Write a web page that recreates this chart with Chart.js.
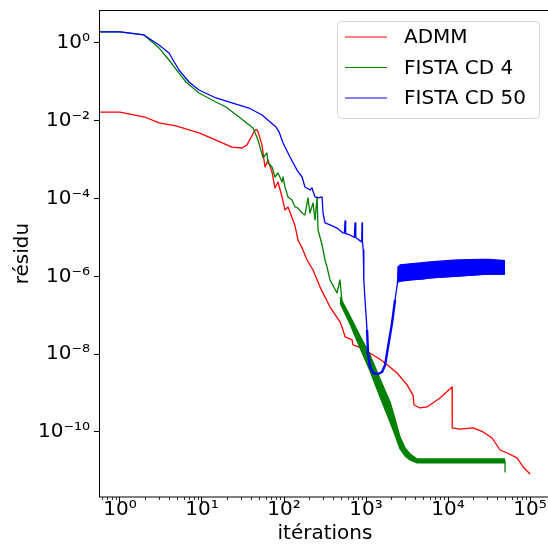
<!DOCTYPE html>
<html>
<head>
<meta charset="utf-8">
<script src="https://cdn.jsdelivr.net/npm/chart.js@4.4.1/dist/chart.umd.min.js"></script>
<style>
html, body { margin: 0; padding: 0; overflow: hidden; background: #fff; }
canvas { display: block; }
</style>
</head>
<body>
<canvas id="graphique-residu" width="551" height="545"></canvas>
<script>
/* global Chart */
// ADMM
const admmIter = [0.555, 1, 2, 3, 4.8, 9.2, 14.8, 23.2, 30.8, 35.4, 44.3, 46.9, 48.2, 53.9, 58.6, 63.8, 71.4, 77.6, 84.5, 94.6,
	102.8, 111.9, 125.3, 136.2, 148.3, 166, 191, 226, 275, 364, 482, 524, 555, 675, 694, 894, 1217, 1400, 1706, 2389,
	3162, 3743, 3849, 4558, 5548, 7980, 11200, 11250, 14000, 20180, 26740, 34420, 43060, 52480, 69380, 82200, 100000];
const admmResidu = [0.0168, 0.0168, 0.0125, 0.0088, 0.0074, 0.0049, 0.0032, 0.0021, 0.0020, 0.0024, 0.0058, 0.0058, 0.0052, 0.0024, 6.5e-4, 9.8e-4, 4.8e-4, 1.87e-4, 2.67e-4, 1.10e-4,
	5.1e-5, 6.1e-5, 3.2e-5, 2.0e-5, 8.6e-6, 5.4e-6, 2.64e-6, 1.46e-6, 5.3e-7, 1.63e-7, 6.8e-8, 4.2e-8, 2.77e-8, 2.32e-8, 1.73e-8, 1.44e-8, 9.5e-9, 8.0e-9, 5.9e-9, 3.29e-9,
	1.62e-9, 8.9e-10, 4.95e-10, 4.14e-10, 4.4e-10, 7.5e-10, 1.44e-9, 1.27e-10, 1.19e-10, 1.27e-10, 1.0e-10, 7.0e-11, 3.44e-11, 2.88e-11, 2.15e-11, 1.26e-11, 8.3e-12];

// FISTA CD 4
const cd4Iter = [0.555, 1, 1.96, 3, 3.96, 5.24, 6.38, 9.19, 14.8, 19.6, 28.3, 41.9, 48.2, 55.5, 62.0, 63.8, 71.4, 77.6, 84.5, 94.6,
	97.3, 102.8, 111.9, 125.3, 136.2, 148.3, 166, 180, 196, 207, 226, 239, 253, 260, 291, 316, 334, 364, 443, 482,
	510, 603, 694, 845, 1119, 1482, 1963, 2259, 2599, 2991, 3441, 4188, 49550, 49550];
const cd4Residu = [1.92, 1.92, 1.61, 0.74, 0.365, 0.169, 0.0994, 0.0518, 0.0304, 0.0226, 0.0125, 0.0065, 0.00321, 0.00111, 0.00149, 8.2e-4, 6.5e-4, 3.59e-4, 4.55e-4, 2.67e-4,
	3.59e-4, 1.99e-4, 1.10e-4, 9.2e-5, 6.1e-5, 5.7e-5, 4.26e-5, 3.79e-5, 1.04e-4, 4.26e-5, 7.7e-5, 2.82e-5, 1.10e-4, 1.56e-5, 6.5e-6, 2.64e-6, 1.75e-6, 8.1e-7, 3.74e-7, 8.1e-7,
	2.07e-7, 1.15e-7, 5.0e-8, 2.1e-8, 5.9e-9, 1.4e-9, 4.5e-10, 1.4e-10, 4.3e-11, 2.9e-11, 2.3e-11, 1.8e-11, 1.8e-11, 9.4e-12];
// bande d'oscillation de FISTA CD 4
const cd4BandeIter = [482, 638, 845, 1119, 1482, 1963, 2259, 2599, 2991, 3441, 4188, 49550];
const cd4BandeHaut = [2.95e-7, 9.6e-8, 2.94e-8, 9.5e-9, 2.30e-9, 5.9e-10, 2.16e-10, 7.4e-11, 3.88e-11, 2.72e-11, 2.02e-11, 2.02e-11];
const cd4BandeBas = [2.07e-7, 5.97e-8, 1.44e-8, 3.70e-9, 7.9e-10, 1.81e-10, 8.4e-11, 3.66e-11, 2.42e-11, 1.91e-11, 1.60e-11, 1.60e-11];

// FISTA CD 50
const cd50Iter = [0.555, 1, 1.96, 2.99, 3.96, 5.24, 6.94, 9.19, 14.8, 23.2, 37.4, 53.9, 79.8, 86.9, 97.3, 118.4, 144.2, 166, 180, 207,
	219, 239, 260, 291, 299, 316, 364, 443, 524, 545, 555, 565, 638, 720, 734, 750, 798, 885, 894, 905,
	925, 940, 972, 1029, 1058, 1119, 1217, 1400, 1567, 1706, 1855, 2075, 2259, 2420, 2455, 2470, 2599, 3441, 4959, 6025,
	12880, 26740, 32360, 49550];
const cd50Residu = [1.92, 1.92, 1.61, 0.89, 0.553, 0.202, 0.0994, 0.0619, 0.0386, 0.0287, 0.0213, 0.0141, 0.00693, 0.0052, 0.00269, 0.00117, 5.4e-4, 3.59e-4, 1.99e-4, 1.66e-4,
	1.87e-4, 1.10e-4, 1.04e-4, 1.10e-4, 4.26e-5, 2.36e-5, 2.1e-5, 1.75e-5, 1.31e-5, 1.3e-5, 2.66e-5, 1.25e-5, 1.16e-5, 1.0e-5, 2.36e-5, 1.0e-5, 9.0e-6, 7.7e-6, 2.36e-5, 7.7e-6,
	4.8e-6, 8.1e-7, 2.47e-7, 4.19e-8, 1.07e-8, 4.69e-9, 3.29e-9, 3.10e-9, 3.48e-9, 5.3e-9, 1.53e-8, 6.3e-8, 2.47e-7, 6.8e-7, 1.75e-6, 7.2e-7, 7.6e-7, 8.1e-7, 8.7e-7, 9.1e-7,
	1.02e-6, 1.12e-6, 1.15e-6, 1.15e-6];
// bande d'oscillation de FISTA CD 50
const cd50BandeIter = [2455, 2599, 3441, 4959, 6025, 12880, 26740, 32360, 49550];
const cd50BandeHaut = [1.75e-6, 1.96e-6, 2.1e-6, 2.25e-6, 2.35e-6, 2.64e-6, 2.72e-6, 2.75e-6, 2.53e-6];
const cd50BandeBas = [7.2e-7, 7.6e-7, 8.1e-7, 8.7e-7, 9.1e-7, 1.02e-6, 1.12e-6, 1.15e-6, 1.15e-6];

// graduations
const xGraduations = [1, 10, 100, 1e3, 1e4, 1e5];
const yGraduations = [1e-10, 1e-8, 1e-6, 1e-4, 1e-2, 1];
const xMin = 0.555, xMax = 1.8e5;
const yMin = 2.13e-12, yMax = 7.05;

const police = "DejaVu Sans";
const rouge = "#ff0000", vert = "#008000", bleu = "#0000ff";

function points(xs, ys){
	return xs.map((x, i) => ({x: x, y: ys[i]}));
}

// 10 puissance n avec exposant en caracteres unicode
const exposants = {"0": "⁰", "1": "¹", "2": "²", "3": "³", "4": "⁴", "5": "⁵", "6": "⁶", "7": "⁷", "8": "⁸", "9": "⁹", "-": "⁻"};
function puissance(v){
	const e = Math.round(Math.log10(v));
	return "10" + String(e).split("").map(c => exposants[c]).join("");
}

// cadre complet + graduations mineures + legende
const decor = {
	id: "decor",
	afterDraw(chart){
		const ctx = chart.ctx;
		const zone = chart.chartArea;
		const xs = chart.scales.x;
		ctx.save();
		ctx.strokeStyle = "#000";
		ctx.lineWidth = 1;
		ctx.strokeRect(zone.left + 0.5, zone.top + 0.5, zone.right - zone.left, zone.bottom - zone.top - 0.5);
		// graduations mineures en x
		ctx.lineWidth = 0.8;
		ctx.beginPath();
		for (const dec of [0.1].concat(xGraduations)){
			for (let m = 2; m <= 9; m++){
				const v = dec * m;
				if (v < xs.min || v > xs.max) continue;
				const px = Math.round(xs.getPixelForValue(v)) + 0.5;
				ctx.moveTo(px, zone.bottom);
				ctx.lineTo(px, zone.bottom + 3);
			}
		}
		ctx.stroke();

		// legende
		const series = chart.data.datasets.filter(d => !d.bande);
		ctx.font = "20px \"" + police + "\"";
		const largeurTexte = Math.max(...series.map(s => ctx.measureText(s.label).width));
		const largeur = 8 + 42 + 17 + largeurTexte + 13;
		const hauteur = 97;
		const x0 = zone.right - 12 - largeur;
		const y0 = zone.top + 11;
		ctx.beginPath();
		if (ctx.roundRect) ctx.roundRect(x0 + 0.5, y0 + 0.5, largeur, hauteur, 4);
		else ctx.rect(x0 + 0.5, y0 + 0.5, largeur, hauteur);
		ctx.fillStyle = "rgba(255,255,255,0.8)";
		ctx.fill();
		ctx.strokeStyle = "rgba(204,204,204,0.8)";
		ctx.lineWidth = 1;
		ctx.stroke();
		series.forEach((s, i) => {
			const yl = y0 + 16 + i * 30.5;
			ctx.strokeStyle = s.borderColor;
			ctx.lineWidth = 1.2;
			ctx.beginPath();
			ctx.moveTo(x0 + 8, yl);
			ctx.lineTo(x0 + 50, yl);
			ctx.stroke();
			ctx.fillStyle = "#000";
			ctx.textBaseline = "middle";
			ctx.fillText(s.label, x0 + 67, yl + 1);
		});
		ctx.restore();
	}
};

// trait plus epais sur le creux de FISTA CD 50 (oscillations)
const creux = ctx => (ctx.p0.parsed.x >= 1000 && ctx.p1.parsed.x <= 2300) ? 2.4 : undefined;

const data = {
	datasets: [
		{label: "ADMM", data: points(admmIter, admmResidu), borderColor: rouge, order: 5},
		{label: "bande cd4 haut", bande: true, data: points(cd4BandeIter, cd4BandeHaut), borderColor: vert, backgroundColor: vert, fill: "+1", order: 4},
		{label: "bande cd4 bas", bande: true, data: points(cd4BandeIter, cd4BandeBas), borderColor: vert, order: 4},
		{label: "FISTA CD 4", data: points(cd4Iter, cd4Residu), borderColor: vert, order: 3},
		{label: "bande cd50 haut", bande: true, data: points(cd50BandeIter, cd50BandeHaut), borderColor: bleu, backgroundColor: bleu, fill: "+1", order: 2},
		{label: "bande cd50 bas", bande: true, data: points(cd50BandeIter, cd50BandeBas), borderColor: bleu, order: 2},
		{label: "FISTA CD 50", data: points(cd50Iter, cd50Residu), borderColor: bleu, order: 1, segment: {borderWidth: creux}},
	],
};

const config = {
	type: "line",
	data: data,
	plugins: [decor],
	options: {
		responsive: false,
		animation: false,
		layout: {padding: {top: 10, left: 0, right: 0, bottom: 0}},
		elements: {
			point: {radius: 0},
			line: {borderWidth: 1.3, tension: 0, borderJoinStyle: "round", fill: false},
		},
		plugins: {legend: {display: false}, tooltip: {enabled: false}},
		scales: {
			x: {
				type: "logarithmic",
				min: xMin,
				max: xMax,
				afterBuildTicks: s => { s.ticks = xGraduations.map(v => ({value: v})); },
				afterFit: s => { s.height = 48; s.paddingLeft = 0; s.paddingRight = 0; },
				border: {display: false},
				grid: {drawOnChartArea: false, tickLength: 5, color: "#000", tickWidth: 1},
				ticks: {font: {family: police, size: 20}, color: "#000", padding: -4, autoSkip: false, maxRotation: 0, callback: v => puissance(v)},
				title: {display: true, text: "itérations", font: {family: police, size: 20, lineHeight: 1.1}, color: "#000", padding: {top: 0, bottom: 0}},
			},
			y: {
				type: "logarithmic",
				min: yMin,
				max: yMax,
				afterBuildTicks: s => { s.ticks = yGraduations.map(v => ({value: v})); },
				afterFit: s => { s.width = 99; s.paddingTop = 0; s.paddingBottom = 0; },
				border: {display: false},
				grid: {drawOnChartArea: false, tickLength: 5, color: "#000", tickWidth: 1},
				ticks: {font: {family: police, size: 20}, color: "#000", padding: 4, autoSkip: false, callback: v => puissance(v)},
				title: {display: true, text: "résidu", font: {family: police, size: 20}, color: "#000", padding: {top: 11, bottom: 0}},
			},
		},
	},
};

new Chart(document.querySelector("#graphique-residu"), config);
</script>
</body>
</html>
